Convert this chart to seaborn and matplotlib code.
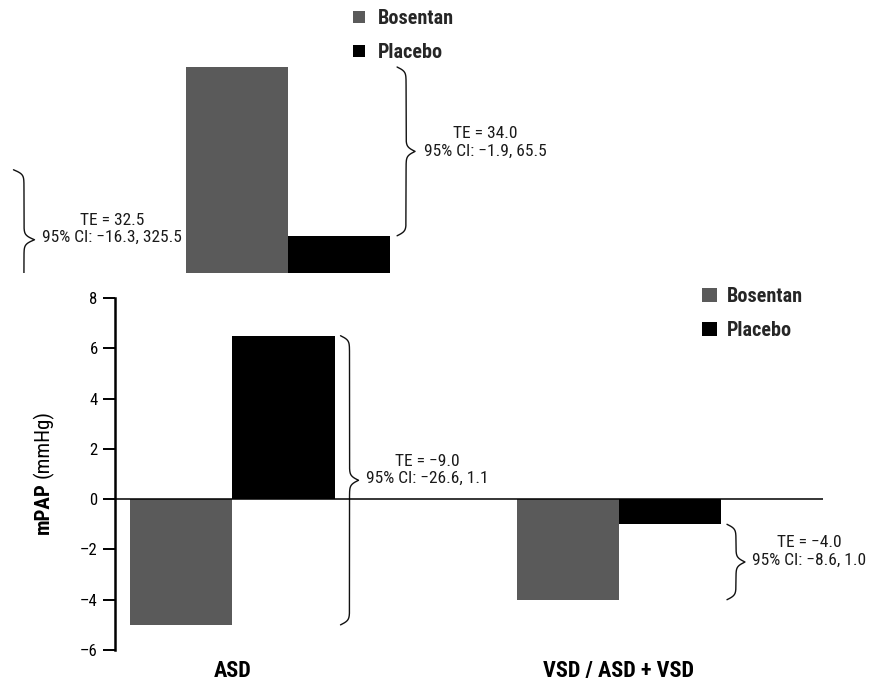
import numpy as np
import pandas as pd
import matplotlib
matplotlib.use("Agg")
import matplotlib.pyplot as plt
from matplotlib import font_manager as fm
import seaborn as sns

# ---- data -------------------------------------------------------------
groups = ["ASD", "VSD / ASD + VSD"]
treatments = ["Bosentan", "Placebo"]
bosentan = [-5.0, -4.0]
placebo = [6.5, -1.0]
te_labels = ["TE = −9.0\n95% CI: −26.6, 1.1",
             "TE = −4.0\n95% CI: −8.6, 1.0"]

# upper panel (partial view of the companion chart)
upper_groups = ["Total"]
upper_bosentan = [61.5]
upper_placebo = [27.5]
upper_te = "TE = 34.0\n95% CI: −1.9, 65.5"
prev_te = "TE = 32.5\n95% CI: −16.3, 325.5"
prev_span = [40.8, 12.6]

yticks = [-6, -4, -2, 0, 2, 4, 6, 8]
colors = ["#5a5a5a", "#000000"]


# ---- font: a condensed sans with a bold face ---------------------------
def pick_font(candidates):
    weights = {}
    for f in fm.fontManager.ttflist:
        w = f.weight if isinstance(f.weight, int) else (700 if "bold" in str(f.weight) else 400)
        weights.setdefault(f.name, set()).add(w)
    for name in candidates:
        ws = weights.get(name, set())
        if any(w <= 500 for w in ws) and any(w >= 600 for w in ws):
            return name
    for name in candidates:
        if name in weights:
            return name
    return "DejaVu Sans"


FONT = pick_font(["Roboto Condensed", "Archivo Narrow", "PT Sans Narrow",
                  "Asap Condensed", "Fira Sans Condensed",
                  "IBM Plex Sans Condensed", "Liberation Sans Narrow"])

sns.set_style("white")
plt.rcParams["font.family"] = [FONT, "DejaVu Sans"]

W, H = 871, 685
fig = plt.figure(figsize=(W / 100, H / 100), dpi=100)


def px_rect(x0, top, x1, bottom):
    return [x0 / W, 1 - bottom / H, (x1 - x0) / W, (bottom - top) / H]


ax = fig.add_axes(px_rect(115, 298, 823, 650))
ax_up = fig.add_axes(px_rect(0, 0, 871, 273))

BAR_W = 0.528


def long_frame(cats, b, p):
    return pd.DataFrame({
        "group": list(cats) * 2,
        "treatment": [treatments[0]] * len(cats) + [treatments[1]] * len(cats),
        "value": list(b) + list(p),
    })


def brace(axis, x_data, y_top, y_bot, offset_px=7, width_px=18, beta=0.45):
    T = axis.transData
    xd, yt = T.transform((x_data, y_top))
    _, yb = T.transform((x_data, y_bot))
    x0 = xd + offset_px
    half = (yt - yb) / 2
    d = np.linspace(0, half, 300)
    g = 1 / (1 + np.exp(-beta * d)) + 1 / (1 + np.exp(-beta * (d - half))) - 0.5
    xs_half = x0 + width_px * g
    xs = np.concatenate([xs_half, xs_half[-2::-1]])
    ys = np.concatenate([yt - d, (yb + d)[-2::-1]])
    pts = T.inverted().transform(np.column_stack([xs, ys]))
    axis.plot(pts[:, 0], pts[:, 1], color="#111111", lw=1.0)
    return T.inverted().transform((x0 + width_px, yt - half))


def te_text(axis, tip, label, dx=7, dy=10.5, size=12.5):
    axis.annotate(label, xy=tip, xycoords="data",
                  xytext=(dx * 0.72, dy * 0.72), textcoords="offset points",
                  ha="left", va="center", multialignment="center",
                  fontsize=size, linespacing=1.2, color="#1a1a1a",
                  annotation_clip=False)


# ---- main chart -------------------------------------------------------
df = long_frame(groups, bosentan, placebo)
sns.barplot(data=df, x="group", y="value", hue="treatment", order=groups,
            hue_order=treatments, palette=colors, saturation=1, width=BAR_W,
            linewidth=0, ax=ax)
ax.set_xlim(-0.304, 1.528)
ax.set_ylim(-6, 8)
ax.axhline(0, color="black", lw=1.1, zorder=3)
for side in ["top", "right", "bottom"]:
    ax.spines[side].set_visible(False)
ax.spines["left"].set_linewidth(1.8)
ax.spines["left"].set_color("black")
ax.set_yticks(yticks)
ax.set_yticklabels([f"{t}".replace("-", "–") for t in yticks])
ax.tick_params(axis="y", left=True, length=8.5, width=1.4, pad=4,
               labelsize=12, colors="black")
ax.tick_params(axis="x", length=0, pad=7, labelsize=16, colors="black")
for lab in ax.get_xticklabels():
    lab.set_fontweight("bold")
ax.set_xlabel("")
ax.set_ylabel("")

for i, (b, p, lab) in enumerate(zip(bosentan, placebo, te_labels)):
    tip = brace(ax, i + BAR_W / 2, max(b, p), min(b, p), offset_px=6)
    te_text(ax, tip, lab)

sns.move_legend(ax, "upper left", bbox_to_anchor=(702 / W, 1 - 287 / H),
                bbox_transform=fig.transFigure, frameon=False, title=None,
                borderpad=0, borderaxespad=0, handlelength=0.75,
                handleheight=0.75, handletextpad=0.5, labelspacing=0.75,
                prop={"weight": "bold", "size": 14.5})

fig.text(43 / W, 1 - 508 / H, "mPAP", rotation=90, ha="center", va="center",
         fontsize=15, fontweight="bold", color="black")
fig.text(43 / W, 1 - 444 / H, "(mmHg)", rotation=90, ha="center", va="center",
         fontsize=15, color="black")

# ---- upper panel ------------------------------------------------------
df_up = long_frame(upper_groups, upper_bosentan, upper_placebo)
sns.barplot(data=df_up, x="group", y="value", hue="treatment",
            hue_order=treatments, palette=colors, saturation=1, width=BAR_W,
            linewidth=0, ax=ax_up)
ax_up.set_xlim(-0.745, 1.508)
ax_up.set_ylim(20, 75)
ax_up.axis("off")

tip = brace(ax_up, BAR_W / 2, upper_bosentan[0], upper_placebo[0], offset_px=7)
te_text(ax_up, tip, upper_te, dx=9, dy=9)
tip = brace(ax_up, -1 + BAR_W / 2, prev_span[0], prev_span[1], offset_px=10,
            width_px=21)
te_text(ax_up, tip, prev_te, dx=8, dy=11)

sns.move_legend(ax_up, "upper left", bbox_to_anchor=(353 / W, 1 - 9 / H),
                bbox_transform=fig.transFigure, frameon=False, title=None,
                borderpad=0, borderaxespad=0, handlelength=0.6,
                handleheight=0.6, handletextpad=0.62, labelspacing=0.75,
                prop={"weight": "bold", "size": 14.5})

fig.savefig("out.png", dpi=100)
